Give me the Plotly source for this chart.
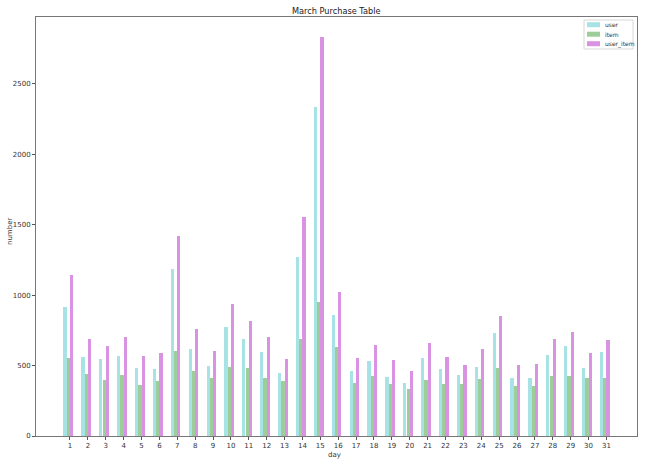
import plotly.graph_objects as go

days = list(range(1, 32))
user = [914, 559, 547, 568, 485, 476, 1186, 616, 495, 776, 687, 597, 450, 1274, 2334,
        859, 464, 533, 419, 376, 552, 474, 436, 492, 729, 410, 414, 573, 637, 485, 597]
item = [556, 440, 398, 433, 362, 391, 606, 464, 414, 490, 485, 414, 391, 687, 949,
        632, 374, 426, 369, 334, 398, 369, 372, 405, 483, 355, 355, 426, 426, 410, 410]
user_item = [1143, 687, 637, 705, 568, 592, 1420, 760, 606, 935, 819, 705, 547, 1553, 2832,
             1020, 556, 646, 537, 459, 658, 561, 502, 616, 852, 504, 511, 687, 741, 587, 680]
y_ticks = [0, 500, 1000, 1500, 2000, 2500]

series = [
    ("user", user, "#a7e3e4", -0.275),
    ("item", item, "#9dcd98", -0.09),
    ("user_item", user_item, "#da92e2", 0.09),
]

# plot area in pixels
L, R, T, B = 36, 637, 17, 436
W, H = R - L, B - T

def px(x):
    return (x - L) / W

def py(y):
    return (B - y) / H

fig = go.Figure()
for name, vals, color, off in series:
    fig.add_trace(go.Bar(
        x=[d + off for d in days], y=vals, name=name, width=0.18,
        marker=dict(color=color, line=dict(width=0)),
    ))

shapes = [dict(type="rect", xref="paper", yref="paper",
               x0=px(584), x1=px(633), y0=py(49), y1=py(20),
               line=dict(color="#d8d8d8", width=1), fillcolor="rgba(255,255,255,0.8)",
               layer="above")]
annotations = []
for i, (name, vals, color, off) in enumerate(series):
    cy = 24.7 + i * 9.5
    shapes.append(dict(type="rect", xref="paper", yref="paper",
                       x0=px(587), x1=px(600), y0=py(cy + 2.5), y1=py(cy - 2.5),
                       line=dict(width=0), fillcolor=color, layer="above"))
    annotations.append(dict(text=name, xref="paper", yref="paper", x=px(603), y=py(cy),
                            xanchor="left", yanchor="middle", showarrow=False,
                            font=dict(size=6, color="#333")))
annotations.append(dict(text="March Purchase Table", xref="paper", yref="paper",
                        x=0.5, y=py(11), xanchor="center", yanchor="middle",
                        showarrow=False, font=dict(size=8.2, color="#222")))
annotations.append(dict(text="number", xref="paper", yref="paper",
                        x=px(10), y=py(231), xanchor="center", yanchor="middle",
                        textangle=-90, showarrow=False, font=dict(size=7, color="#333")))
annotations.append(dict(text="day", xref="paper", yref="paper",
                        x=px(334), y=py(455), xanchor="center", yanchor="middle",
                        showarrow=False, font=dict(size=7, color="#333")))

fig.update_layout(
    width=650, height=460,
    margin=dict(l=L, r=650 - R, t=T, b=460 - B, autoexpand=False),
    paper_bgcolor="white", plot_bgcolor="white",
    font=dict(family="DejaVu Sans", size=7, color="#333"),
    barmode="overlay", bargap=0,
    showlegend=False,
    shapes=shapes, annotations=annotations,
    xaxis=dict(range=[-0.9, 32.71], tickmode="array", tickvals=days,
               ticktext=[str(d) for d in days], ticks="outside", ticklen=3,
               tickcolor="#555", showgrid=False, zeroline=False, automargin=False,
               showline=True, linecolor="#777", linewidth=1, mirror=True,
               tickfont=dict(size=7)),
    yaxis=dict(range=[0, 2974], tickmode="array", tickvals=y_ticks,
               ticktext=[str(v) for v in y_ticks], ticks="outside", ticklen=3,
               tickcolor="#555", showgrid=False, zeroline=False, automargin=False,
               showline=True, linecolor="#777", linewidth=1, mirror=True,
               tickfont=dict(size=7)),
)

fig.write_html(
    "out.html",
    config={"displayModeBar": False},
    post_script="document.body.style.margin='0';document.body.style.overflow='hidden';",
)
